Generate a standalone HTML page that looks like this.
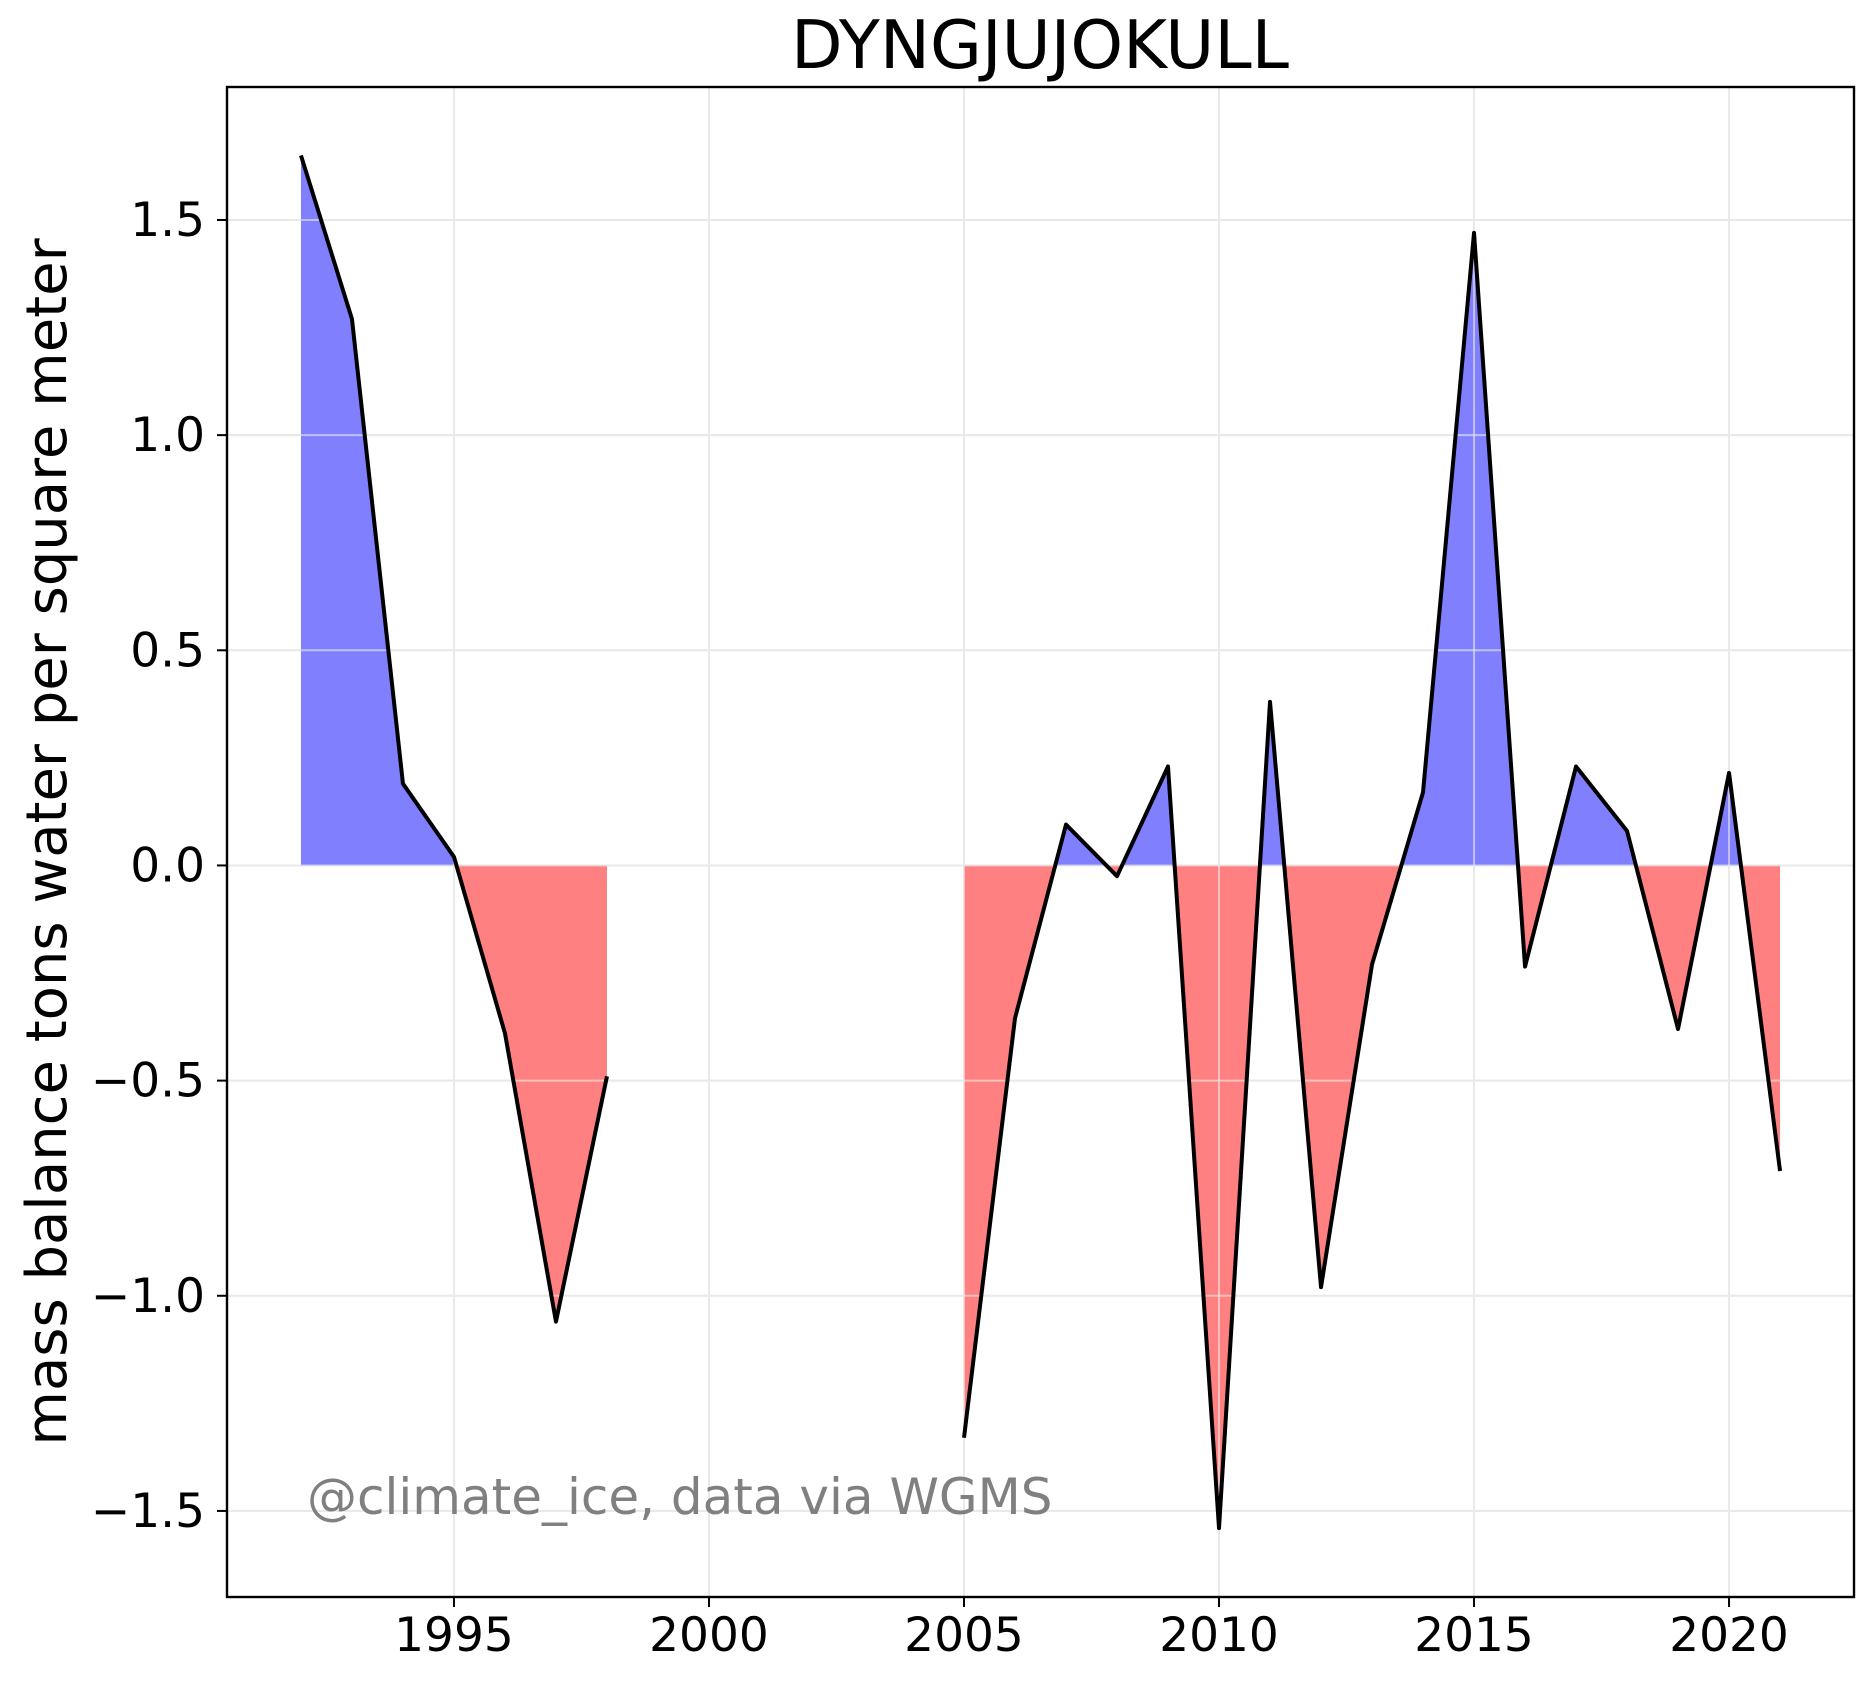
<!DOCTYPE html>
<html><head><meta charset="utf-8"><style>body{margin:0;background:#fff}svg{display:block}text{font-family:"DejaVu Sans","Liberation Sans",sans-serif}</style></head>
<body>
<svg id="chart" width="1873" height="1684" viewBox="0 0 1873 1684" xmlns="http://www.w3.org/2000/svg">
<rect width="1873" height="1684" fill="#fff"/>
<g id="grid"></g>
<g id="fills"></g>
<g id="gridtop"></g>
<g id="lines"></g>
<g id="axes"></g>
<text x="1040" y="68" font-size="67" text-anchor="middle">DYNGJUJOKULL</text>
<text transform="translate(66,842) rotate(-90)" font-size="56" text-anchor="middle">mass balance tons water per square meter</text>
<text x="307" y="1514" font-size="50" fill="#808080">@climate_ice, data via WGMS</text>
</svg>
<script>
const years=[1992,1993,1994,1995,1996,1997,1998,1999,2000,2001,2002,2003,2004,2005,2006,2007,2008,2009,2010,2011,2012,2013,2014,2015,2016,2017,2018,2019,2020,2021];
const balance=[1.65,1.27,0.19,0.02,-0.39,-1.06,-0.49,null,null,null,null,null,null,-1.33,-0.355,0.095,-0.025,0.23,-1.54,0.38,-0.98,-0.23,0.17,1.47,-0.235,0.23,0.08,-0.38,0.215,-0.71];
const xTicks=[1995,2000,2005,2010,2015,2020];
const yTicks=[-1.5,-1.0,-0.5,0.0,0.5,1.0,1.5];
const yTickLabels=["\u22121.5","\u22121.0","\u22120.5","0.0","0.5","1.0","1.5"];
const L=227,R=1854,T=87,B=1597;
const x0=1990.55,x1=2022.45,y0=-1.70,y1=1.809;
const X=v=>L+(v-x0)/(x1-x0)*(R-L);
const Y=v=>B-(v-y0)/(y1-y0)*(B-T);
const NS="http://www.w3.org/2000/svg";
function mk(tag,attrs,parent){const e=document.createElementNS(NS,tag);for(const k in attrs)e.setAttribute(k,attrs[k]);parent.appendChild(e);return e;}
const grid=document.getElementById('grid'),gt=document.getElementById('gridtop');
[grid,gt].forEach((g,i)=>{
xTicks.forEach(t=>{const l=mk('line',{x1:X(t),x2:X(t),y1:T,y2:B,stroke:i?'rgba(235,235,235,0.6)':'#e6e6e6','stroke-width':2},g);

});
yTicks.forEach(t=>{const l=mk('line',{x1:L,x2:R,y1:Y(t),y2:Y(t),stroke:i?'rgba(235,235,235,0.6)':'#e6e6e6','stroke-width':2},g);

});
});
const segs=[];let cur=[];
years.forEach((yr,i)=>{if(balance[i]===null){if(cur.length)segs.push(cur);cur=[];}else cur.push([yr,balance[i]]);});
if(cur.length)segs.push(cur);
const fills=document.getElementById('fills'),lines=document.getElementById('lines');
const defs=mk('defs',{},fills);
const cp=mk('clipPath',{id:'above'},defs);mk('rect',{x:L,y:T,width:R-L,height:Y(0)-T},cp);
const cn=mk('clipPath',{id:'below'},defs);mk('rect',{x:L,y:Y(0),width:R-L,height:B-Y(0)},cn);
segs.forEach(s=>{
const pts=s.map(p=>X(p[0])+','+Y(p[1])).join(' ');
const poly=X(s[0][0])+','+Y(0)+' '+pts+' '+X(s[s.length-1][0])+','+Y(0);
const a=mk('polygon',{points:poly,fill:'#8080ff','clip-path':'url(#above)'},fills);


const b=mk('polygon',{points:poly,fill:'#ff8080','clip-path':'url(#below)'},fills);


const pl=mk('polyline',{points:pts,fill:'none',stroke:'#000','stroke-width':4,'stroke-linejoin':'round'},lines);


});
const ax=document.getElementById('axes');
const fr=mk('rect',{x:L,y:T,width:R-L,height:B-T,fill:'none',stroke:'#000','stroke-width':2.4},ax);


xTicks.forEach(t=>{mk('line',{x1:X(t),x2:X(t),y1:B,y2:B+10,stroke:'#000','stroke-width':2},ax);
const tx=mk('text',{x:X(t),y:1651,'font-size':47,'text-anchor':'middle'},ax);tx.textContent=t;

});
yTicks.forEach((t,i)=>{mk('line',{x1:L-10,x2:L,y1:Y(t),y2:Y(t),stroke:'#000','stroke-width':2},ax);
const tx=mk('text',{x:205,y:Y(t)+16,'font-size':47,'text-anchor':'end'},ax);tx.textContent=yTickLabels[i];

});
</script>
</body></html>
